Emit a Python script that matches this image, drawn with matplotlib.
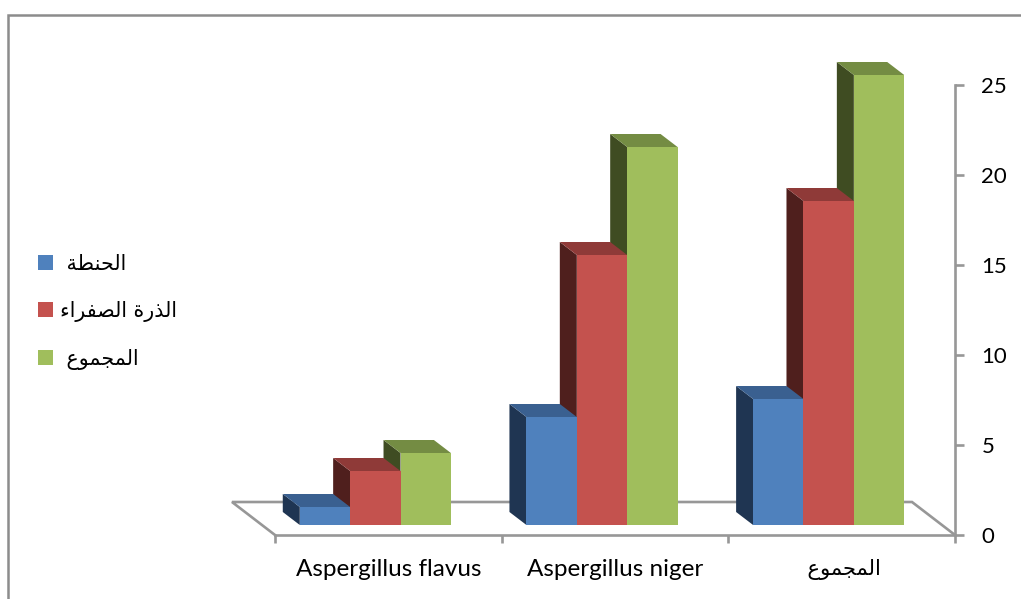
import matplotlib
matplotlib.use("Agg")
import matplotlib.pyplot as plt
from matplotlib.patches import Polygon, Rectangle, Patch

# Arabic text in visual order with presentation forms (matplotlib does no shaping)
WHEAT = "\ufe94\ufec4\ufee8\ufea4\ufedf\ufe8d"                 # الحنطة
CORN = "\ufe80\ufe8d\ufeae\ufed4\ufebc\ufedf\ufe8d \ufe93\ufead\ufeac\ufedf\ufe8d"  # الذرة الصفراء
TOTAL = "\ufec9\ufeee\ufee4\ufea0\ufee4\ufedf\ufe8d"           # المجموع

categories = ["Aspergillus flavus", "Aspergillus niger", " " + TOTAL]
series_names = [" " + WHEAT, CORN, " " + TOTAL]
wheat_values = [1, 6, 7]
corn_values = [3, 15, 18]
total_values = [4, 21, 25]
y_ticks = [0, 5, 10, 15, 20, 25]

front_colors = ["#4F81BD", "#C4524E", "#A0BE5C"]
side_colors = ["#1F3552", "#4F1F1D", "#3F4C22"]
top_colors = ["#3A6090", "#8F3A38", "#748C43"]
GRAY = "#979797"
LW = 1.9

W, H = 1021, 599
fig = plt.figure(figsize=(W / 100, H / 100), dpi=100)
fig.patches.append(Rectangle((8 / W, -0.02), 1.1, 1.02 - 15 / H, transform=fig.transFigure,
                             fill=False, edgecolor="#8c8c8c", linewidth=1.8))
ax = fig.add_axes([275 / W, (H - 535) / H, 680 / W, 450 / H])
ax.set_xlim(0, 3)
ax.set_ylim(0, 25)
ax.patch.set_visible(False)

px = 3 / 680          # data units per pixel, x
py = 25 / 450         # data units per pixel, y
front_dx, front_dy = -13 * px, 10 * py
depth_x, depth_y = -17 * px, 13 * py
floor_x, floor_y = -43 * px, 33 * py
bar_w = 1 / 4.5

# floor
ax.plot([0, floor_x, 3 + floor_x, 3], [0, floor_y, floor_y, 0], color=GRAY, lw=LW,
        clip_on=False, zorder=1, solid_joinstyle="miter")

all_values = [wheat_values, corn_values, total_values]
for s, vals in enumerate(all_values):
    z_back = 4 - s   # later series sit behind the earlier ones
    for c, v in enumerate(vals):
        x0 = c + 0.5 + front_dx + (s - 1.5) * bar_w
        x1 = x0 + bar_w
        y0 = front_dy
        y1 = front_dy + v
        ax.add_patch(Polygon([(x0, y0), (x0, y1), (x0 + depth_x, y1 + depth_y), (x0 + depth_x, y0 + depth_y)],
                             facecolor=side_colors[s], edgecolor="none", clip_on=False, zorder=z_back))
        ax.add_patch(Polygon([(x0, y1), (x1, y1), (x1 + depth_x, y1 + depth_y), (x0 + depth_x, y1 + depth_y)],
                             facecolor=top_colors[s], edgecolor="none", clip_on=False, zorder=z_back))
        ax.bar(x0, v, width=bar_w, bottom=y0, align="edge", color=front_colors[s],
               clip_on=False, zorder=6)

# axes
for name in ["top", "left"]:
    ax.spines[name].set_visible(False)
for name in ["right", "bottom"]:
    ax.spines[name].set_color(GRAY)
    ax.spines[name].set_linewidth(LW)
    ax.spines[name].set_zorder(1)
ax.yaxis.tick_right()
ax.set_yticks(y_ticks)
ax.set_yticklabels([str(t) for t in y_ticks], fontsize=16, family="Lato")
ax.tick_params(axis="y", length=6.5, width=LW, color=GRAY, pad=12.5, labelcolor="black")
ax.set_xticks([0, 1, 2, 3])
ax.set_xticklabels([])
ax.tick_params(axis="x", length=6, width=LW, color=GRAY)

ax.set_xticks([0.5, 1.5, 2.5], minor=True)
ax.set_xticklabels(categories, minor=True, fontsize=17.5, family=["Lato", "DejaVu Sans"])
ax.tick_params(axis="x", which="minor", length=0, pad=17.2)
ax.get_xticklabels(minor=True)[2].set_fontsize(15.2)

handles = [Patch(facecolor=col, edgecolor="none") for col in front_colors]
fig.legend(handles, series_names, loc="upper left", bbox_to_anchor=(38 / W, 1 - 253.5 / H),
           bbox_transform=fig.transFigure, frameon=False, borderaxespad=0, borderpad=0,
           prop={"family": "DejaVu Sans", "size": 14.8}, handlelength=0.73, handleheight=0.73,
           handletextpad=0.34, labelspacing=1.32)

fig.savefig("out.png", dpi=100)
